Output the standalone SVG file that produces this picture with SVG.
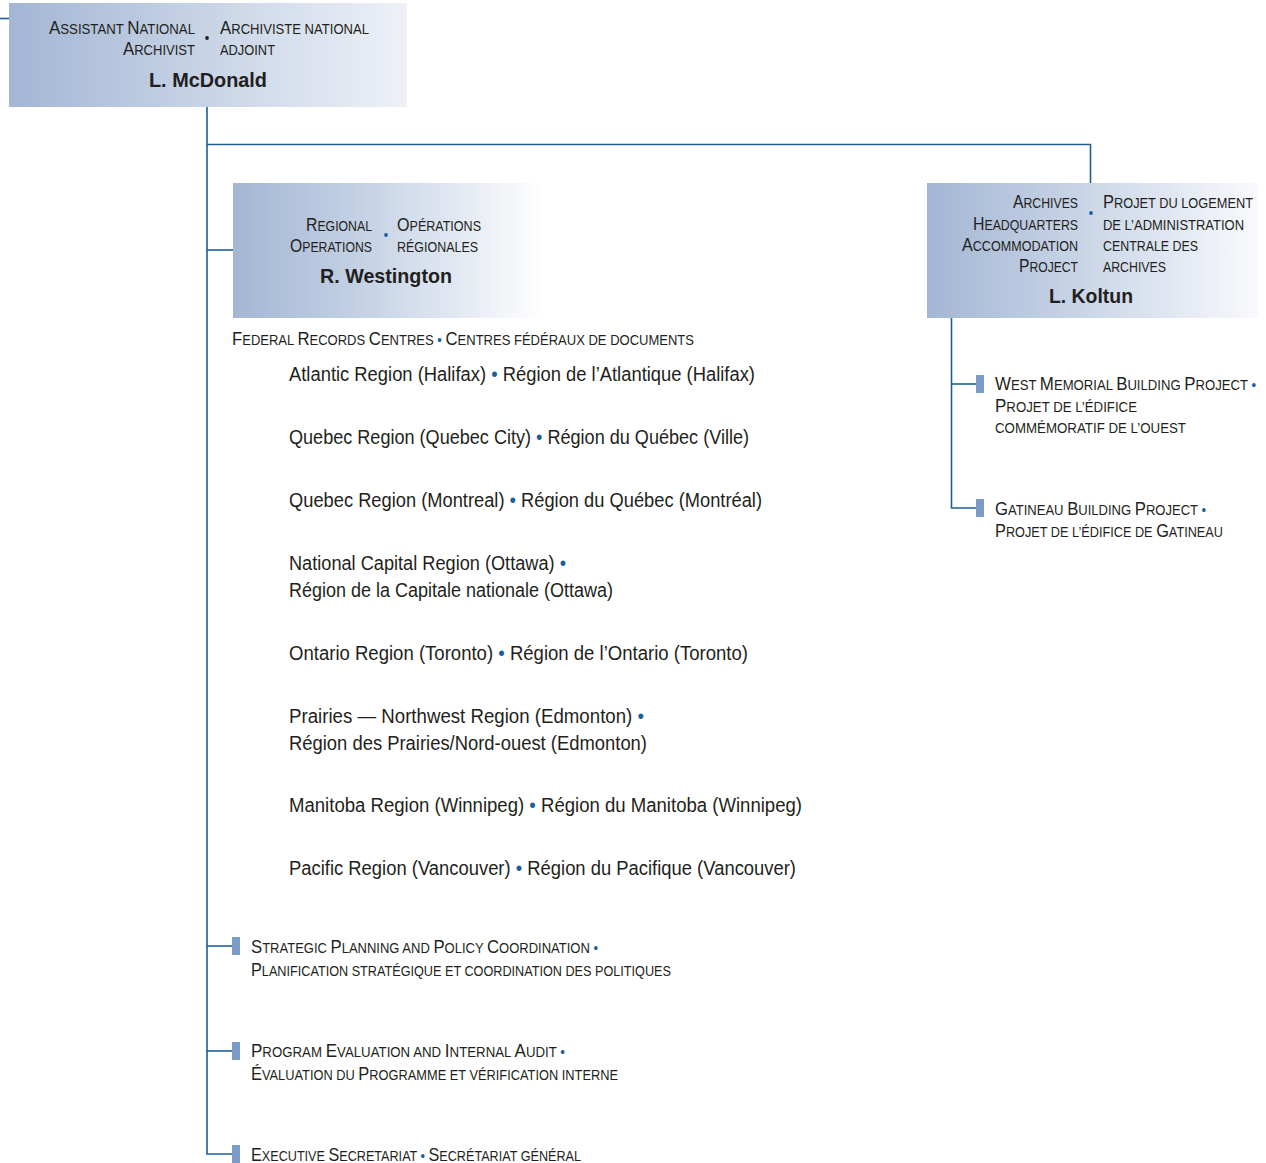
<svg xmlns="http://www.w3.org/2000/svg" width="1266" height="1163" viewBox="0 0 1266 1163">
<style>
text{font-family:"Liberation Sans",Arial,sans-serif;fill:#231f20}
.sc{font-size:14px}
.k{font-size:18px}
.nm{font-size:21px;font-weight:bold}
.rg{font-size:19.5px}
.b{fill:#1a5e9a}
.ln{fill:none;stroke:#1f5f96;stroke-width:1.6}
.mk{fill:#7b9cc6}
</style>
<defs>
<linearGradient id="g1" x1="0" x2="1" y1="0" y2="0"><stop offset="0" stop-color="#a3b6d4"/><stop offset="0.5" stop-color="#c8d4e6"/><stop offset="1" stop-color="#eef1f7"/></linearGradient>
<linearGradient id="g2" x1="0" x2="1" y1="0" y2="0"><stop offset="0" stop-color="#a3b6d4"/><stop offset="0.45" stop-color="#c8d4e6"/><stop offset="1" stop-color="#ffffff"/></linearGradient>
<linearGradient id="g3" x1="0" x2="1" y1="0" y2="0"><stop offset="0" stop-color="#a3b6d4"/><stop offset="0.45" stop-color="#c8d4e6"/><stop offset="1" stop-color="#f8f9fc"/></linearGradient>
</defs>

<g id="connectors">
<path class="ln" d="M0 18.5H9"/>
<path class="ln" d="M207 107V1154H232"/>
<path class="ln" d="M207 144.5H1090.5V183"/>
<path class="ln" d="M207 250H233"/>
<path class="ln" d="M207 946H232"/>
<path class="ln" d="M207 1051H232"/>
<path class="ln" d="M951.5 318V508H976"/>
<path class="ln" d="M951.5 384H976"/>
</g>

<g id="node-mcdonald">
<rect x="9" y="3" width="398" height="104" fill="url(#g1)"/>
<text class="sc" x="49" y="34" textLength="146" lengthAdjust="spacingAndGlyphs"><tspan class="k">A</tspan>SSISTANT <tspan class="k">N</tspan>ATIONAL</text>
<text class="sc" x="123" y="55" textLength="72" lengthAdjust="spacingAndGlyphs"><tspan class="k">A</tspan>RCHIVIST</text>
<circle cx="207" cy="38" r="1.9" fill="#231f20"/>
<text class="sc" x="220" y="34" textLength="149" lengthAdjust="spacingAndGlyphs"><tspan class="k">A</tspan>RCHIVISTE NATIONAL</text>
<text class="sc" x="220" y="55" textLength="55" lengthAdjust="spacingAndGlyphs">ADJOINT</text>
<text class="nm" x="149" y="87" textLength="118" lengthAdjust="spacingAndGlyphs">L. McDonald</text>
</g>

<g id="node-westington">
<rect x="233" y="183" width="312" height="135" fill="url(#g2)"/>
<text class="sc" x="306" y="231" textLength="66" lengthAdjust="spacingAndGlyphs"><tspan class="k">R</tspan>EGIONAL</text>
<text class="sc" x="290" y="252" textLength="82" lengthAdjust="spacingAndGlyphs"><tspan class="k">O</tspan>PERATIONS</text>
<circle class="b" cx="386" cy="235" r="1.9"/>
<text class="sc" x="397" y="231" textLength="84" lengthAdjust="spacingAndGlyphs"><tspan class="k">O</tspan>PÉRATIONS</text>
<text class="sc" x="397" y="252" textLength="81" lengthAdjust="spacingAndGlyphs">RÉGIONALES</text>
<text class="nm" x="320" y="283" textLength="132" lengthAdjust="spacingAndGlyphs">R. Westington</text>
</g>

<g id="node-koltun">
<rect x="927" y="183" width="331" height="135" fill="url(#g3)"/>
<text class="sc" x="1013" y="208" textLength="65" lengthAdjust="spacingAndGlyphs"><tspan class="k">A</tspan>RCHIVES</text>
<text class="sc" x="973" y="230" textLength="105" lengthAdjust="spacingAndGlyphs"><tspan class="k">H</tspan>EADQUARTERS</text>
<text class="sc" x="962" y="251" textLength="116" lengthAdjust="spacingAndGlyphs"><tspan class="k">A</tspan>CCOMMODATION</text>
<text class="sc" x="1019" y="272" textLength="59" lengthAdjust="spacingAndGlyphs"><tspan class="k">P</tspan>ROJECT</text>
<circle class="b" cx="1091" cy="213" r="1.9"/>
<text class="sc" x="1103" y="208" textLength="150" lengthAdjust="spacingAndGlyphs"><tspan class="k">P</tspan>ROJET DU LOGEMENT</text>
<text class="sc" x="1103" y="230" textLength="141" lengthAdjust="spacingAndGlyphs">DE L’ADMINISTRATION</text>
<text class="sc" x="1103" y="251" textLength="95" lengthAdjust="spacingAndGlyphs">CENTRALE DES</text>
<text class="sc" x="1103" y="272" textLength="63" lengthAdjust="spacingAndGlyphs">ARCHIVES</text>
<text class="nm" x="1049" y="303" textLength="84" lengthAdjust="spacingAndGlyphs">L. Koltun</text>
</g>

<g id="node-frc">
<text class="sc" x="232" y="345" textLength="462" lengthAdjust="spacingAndGlyphs"><tspan class="k">F</tspan>EDERAL <tspan class="k">R</tspan>ECORDS <tspan class="k">C</tspan>ENTRES <tspan class="b">•</tspan> <tspan class="k">C</tspan>ENTRES FÉDÉRAUX DE DOCUMENTS</text>
<text class="rg" x="289" y="381" textLength="466" lengthAdjust="spacingAndGlyphs">Atlantic Region (Halifax) <tspan class="b">•</tspan> Région de l’Atlantique (Halifax)</text>
<text class="rg" x="289" y="444" textLength="460" lengthAdjust="spacingAndGlyphs">Quebec Region (Quebec City) <tspan class="b">•</tspan> Région du Québec (Ville)</text>
<text class="rg" x="289" y="507" textLength="473" lengthAdjust="spacingAndGlyphs">Quebec Region (Montreal) <tspan class="b">•</tspan> Région du Québec (Montréal)</text>
<text class="rg" x="289" y="570" textLength="277" lengthAdjust="spacingAndGlyphs">National Capital Region (Ottawa) <tspan class="b">•</tspan></text>
<text class="rg" x="289" y="597" textLength="324" lengthAdjust="spacingAndGlyphs">Région de la Capitale nationale (Ottawa)</text>
<text class="rg" x="289" y="660" textLength="459" lengthAdjust="spacingAndGlyphs">Ontario Region (Toronto) <tspan class="b">•</tspan> Région de l’Ontario (Toronto)</text>
<text class="rg" x="289" y="723" textLength="355" lengthAdjust="spacingAndGlyphs">Prairies — Northwest Region (Edmonton) <tspan class="b">•</tspan></text>
<text class="rg" x="289" y="750" textLength="358" lengthAdjust="spacingAndGlyphs">Région des Prairies/Nord-ouest (Edmonton)</text>
<text class="rg" x="289" y="812" textLength="513" lengthAdjust="spacingAndGlyphs">Manitoba Region (Winnipeg) <tspan class="b">•</tspan> Région du Manitoba (Winnipeg)</text>
<text class="rg" x="289" y="875" textLength="507" lengthAdjust="spacingAndGlyphs">Pacific Region (Vancouver) <tspan class="b">•</tspan> Région du Pacifique (Vancouver)</text>
</g>

<g id="node-strategic">
<rect class="mk" x="232" y="937" width="8" height="18"/>
<text class="sc" x="251" y="953" textLength="347" lengthAdjust="spacingAndGlyphs"><tspan class="k">S</tspan>TRATEGIC <tspan class="k">P</tspan>LANNING AND <tspan class="k">P</tspan>OLICY <tspan class="k">C</tspan>OORDINATION <tspan class="b">•</tspan></text>
<text class="sc" x="251" y="976" textLength="420" lengthAdjust="spacingAndGlyphs"><tspan class="k">P</tspan>LANIFICATION STRATÉGIQUE ET COORDINATION DES POLITIQUES</text>
</g>

<g id="node-audit">
<rect class="mk" x="232" y="1042" width="8" height="18"/>
<text class="sc" x="251" y="1057" textLength="314" lengthAdjust="spacingAndGlyphs"><tspan class="k">P</tspan>ROGRAM <tspan class="k">E</tspan>VALUATION AND <tspan class="k">I</tspan>NTERNAL <tspan class="k">A</tspan>UDIT <tspan class="b">•</tspan></text>
<text class="sc" x="251" y="1080" textLength="367" lengthAdjust="spacingAndGlyphs"><tspan class="k">É</tspan>VALUATION DU <tspan class="k">P</tspan>ROGRAMME ET VÉRIFICATION INTERNE</text>
</g>

<g id="node-secretariat">
<rect class="mk" x="232" y="1145" width="8" height="18"/>
<text class="sc" x="251" y="1161" textLength="330" lengthAdjust="spacingAndGlyphs"><tspan class="k">E</tspan>XECUTIVE <tspan class="k">S</tspan>ECRETARIAT <tspan class="b">•</tspan> <tspan class="k">S</tspan>ECRÉTARIAT GÉNÉRAL</text>
</g>

<g id="node-west-memorial">
<rect class="mk" x="976" y="375" width="8" height="18"/>
<text class="sc" x="995" y="390" textLength="261" lengthAdjust="spacingAndGlyphs"><tspan class="k">W</tspan>EST <tspan class="k">M</tspan>EMORIAL <tspan class="k">B</tspan>UILDING <tspan class="k">P</tspan>ROJECT <tspan class="b">•</tspan></text>
<text class="sc" x="995" y="412" textLength="142" lengthAdjust="spacingAndGlyphs"><tspan class="k">P</tspan>ROJET DE L’ÉDIFICE</text>
<text class="sc" x="995" y="433" textLength="191" lengthAdjust="spacingAndGlyphs">COMMÉMORATIF DE L’OUEST</text>
</g>

<g id="node-gatineau">
<rect class="mk" x="976" y="499" width="8" height="18"/>
<text class="sc" x="995" y="515" textLength="211" lengthAdjust="spacingAndGlyphs"><tspan class="k">G</tspan>ATINEAU <tspan class="k">B</tspan>UILDING <tspan class="k">P</tspan>ROJECT <tspan class="b">•</tspan></text>
<text class="sc" x="995" y="537" textLength="228" lengthAdjust="spacingAndGlyphs"><tspan class="k">P</tspan>ROJET DE L’ÉDIFICE DE <tspan class="k">G</tspan>ATINEAU</text>
</g>
</svg>
